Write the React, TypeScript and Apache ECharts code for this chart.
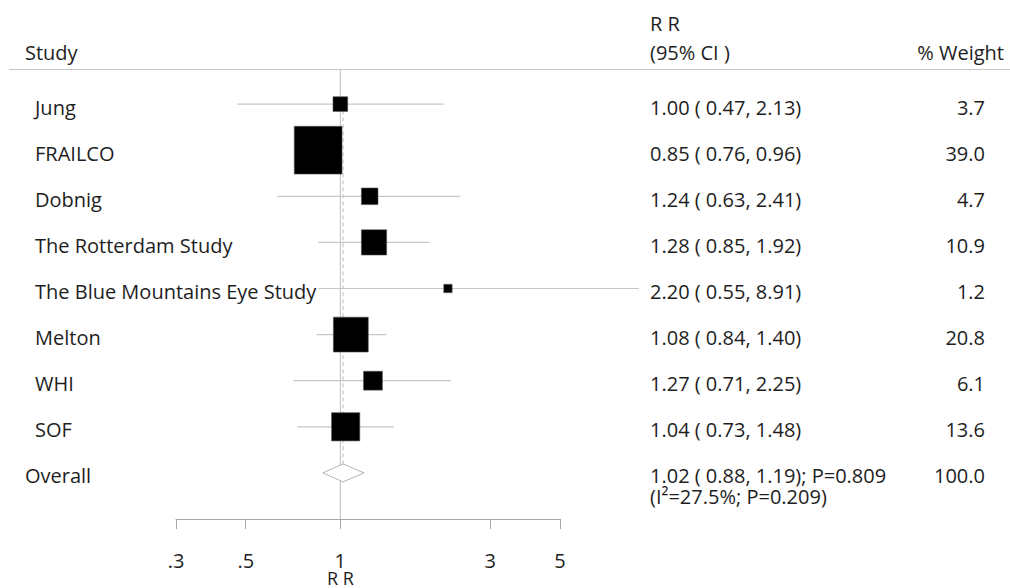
import React, { useEffect, useRef } from "react";
import * as echarts from "echarts";

// Per-study relative risks with 95% confidence intervals and meta-analysis weights
const studies = [
  "Jung",
  "FRAILCO",
  "Dobnig",
  "The Rotterdam Study",
  "The Blue Mountains Eye Study",
  "Melton",
  "WHI",
  "SOF",
];
const estimates = [1.0, 0.85, 1.24, 1.28, 2.2, 1.08, 1.27, 1.04];
const lowerCI = [0.47, 0.76, 0.63, 0.85, 0.55, 0.84, 0.71, 0.73];
const upperCI = [2.13, 0.96, 2.41, 1.92, 8.91, 1.4, 2.25, 1.48];
const weights = [3.7, 39.0, 4.7, 10.9, 1.2, 20.8, 6.1, 13.6];

// Pooled estimate
const overallLabel = "Overall";
const overallEstimate = 1.02;
const overallLower = 0.88;
const overallUpper = 1.19;
const overallP = "0.809";
const heterogeneityI2 = "27.5";
const heterogeneityP = "0.209";
const overallWeight = 100.0;

// Axis
const tickValues = [0.3, 0.5, 1, 3, 5];
const tickLabels = [".3", ".5", "1", "3", "5"];
const axisMin = 0.3;
const axisMax = 5;
const axisTitle = "R R";

// Column headers
const studyHeader = "Study";
const ciHeaderLines = ["R R", "(95% CI )"];
const weightHeader = "% Weight";

const FONT = "'Open Sans', 'Noto Sans', sans-serif";
const FS = 20;
const TEXT = "#1e1e1e";
const GREY = "#c6c6c6";

const lg = (v: number) => Math.log10(v);
const fmtCI = (e: number, l: number, u: number) =>
  `${e.toFixed(2)} ( ${l.toFixed(2)}, ${u.toFixed(2)})`;

export default function App() {
  const ref = useRef<HTMLDivElement>(null);

  useEffect(() => {
    if (!ref.current) return;
    const chart = echarts.init(ref.current, null, { renderer: "svg" });
    const overallRow = studies.length;

    const text = (
      x: number,
      y: number,
      s: string,
      align: string,
      extra: Record<string, unknown> = {}
    ) => ({
      type: "text",
      x,
      y,
      style: {
        text: s,
        fill: TEXT,
        fontFamily: FONT,
        fontSize: FS,
        align,
        verticalAlign: "middle",
        ...extra,
      },
    });

    const rowTexts = studies.map((s, i) => ({
      name: s,
      value: [0, i],
      label: s,
      ci: fmtCI(estimates[i], lowerCI[i], upperCI[i]),
      w: weights[i].toFixed(1),
    }));

    const option: any = {
      animation: false,
      backgroundColor: "#fff",
      grid: { left: 176, right: 450, top: 58, bottom: 69 },
      xAxis: {
        type: "value",
        position: "bottom",
        min: lg(axisMin),
        max: lg(axisMax),
        splitLine: { show: false },
        axisLine: { show: true, onZero: false, lineStyle: { color: "#a6a6a6", width: 1 } },
        axisTick: {
          show: true,
          length: 10,
          customValues: tickValues.map(lg),
          lineStyle: { color: "#a6a6a6", width: 1 },
        },
        axisLabel: {
          customValues: tickValues.map(lg),
          margin: 32,
          color: TEXT,
          fontFamily: FONT,
          fontSize: FS,
          lineHeight: 18,
          formatter: (v: number) => {
            let best = 0;
            tickValues.forEach((t, k) => {
              if (Math.abs(lg(t) - v) < Math.abs(lg(tickValues[best]) - v)) best = k;
            });
            return tickLabels[best];
          },
        },
      },
      yAxis: { type: "value", min: -1, max: 9, inverse: true, show: false },
      graphic: [
        {
          type: "line",
          shape: { x1: 9, y1: 69.5, x2: 1010, y2: 69.5 },
          style: { stroke: GREY, lineWidth: 1 },
          z: 1,
        },
        text(25, 52, studyHeader, "left"),
        text(650, 23, ciHeaderLines[0], "left"),
        text(650, 52, ciHeaderLines[1], "left"),
        text(1004, 52, weightHeader, "right"),
      ],
      series: [
        // line of no effect and axis title
        {
          type: "custom",
          clip: false,
          z: 1,
          data: [[lg(1), 9]],
          renderItem: (_p: any, api: any) => {
            const top = api.coord([api.value(0), -0.745]);
            const bot = api.coord([api.value(0), api.value(1)]);
            return {
              type: "group",
              children: [
                {
                  type: "line",
                  shape: { x1: top[0], y1: top[1], x2: bot[0], y2: bot[1] },
                  style: { stroke: "#bdbdbd", lineWidth: 1 },
                },
                text(bot[0], bot[1] + 59, axisTitle, "center", { fontSize: 18, lineHeight: 16 }),
              ],
            };
          },
        },
        // dashed line at pooled estimate
        {
          type: "custom",
          clip: false,
          z: 2,
          data: [[lg(overallEstimate), -0.17, overallRow]],
          renderItem: (_p: any, api: any) => {
            const a = api.coord([api.value(0), api.value(1)]);
            const b = api.coord([api.value(0), api.value(2)]);
            return {
              type: "line",
              shape: { x1: a[0], y1: a[1], x2: b[0], y2: b[1] - 9 },
              style: { stroke: "#bcbcbc", lineWidth: 1, lineDash: [4, 3] },
            };
          },
        },
        // confidence intervals
        {
          type: "custom",
          clip: false,
          z: 3,
          data: studies.map((_, i) => [lg(lowerCI[i]), lg(upperCI[i]), i]),
          encode: { x: [0, 1], y: 2 },
          renderItem: (_p: any, api: any) => {
            const a = api.coord([api.value(0), api.value(2)]);
            const b = api.coord([api.value(1), api.value(2)]);
            return {
              type: "line",
              shape: { x1: a[0], y1: a[1], x2: b[0], y2: b[1] },
              style: { stroke: GREY, lineWidth: 1.2 },
            };
          },
        },
        // weighted point estimates
        {
          type: "custom",
          clip: false,
          z: 4,
          data: studies.map((_, i) => [lg(estimates[i]), i, weights[i]]),
          encode: { x: 0, y: 1 },
          renderItem: (_p: any, api: any) => {
            const c = api.coord([api.value(0), api.value(1)]);
            const side = 7.65 * Math.sqrt(api.value(2));
            return {
              type: "rect",
              shape: { x: c[0] - side / 2, y: c[1] - side / 2, width: side, height: side },
              style: { fill: "#000", stroke: "#555", lineWidth: 0.6 },
            };
          },
        },
        // pooled diamond
        {
          type: "custom",
          clip: false,
          z: 4,
          data: [[lg(overallLower), lg(overallEstimate), lg(overallUpper), overallRow]],
          encode: { x: [0, 2], y: 3 },
          renderItem: (_p: any, api: any) => {
            const y = api.value(3);
            const l = api.coord([api.value(0), y]);
            const m = api.coord([api.value(1), y]);
            const r = api.coord([api.value(2), y]);
            const h = 9;
            return {
              type: "polygon",
              shape: {
                points: [
                  [l[0], l[1]],
                  [m[0], m[1] - h],
                  [r[0], r[1]],
                  [m[0], m[1] + h],
                ],
              },
              style: { fill: "#fff", stroke: "#b4b4b4", lineWidth: 1 },
            };
          },
        },
        // study rows: name, estimate text, weight
        {
          type: "custom",
          clip: false,
          z: 6,
          data: rowTexts,
          encode: { x: 0, y: 1 },
          renderItem: (p: any, api: any) => {
            const r = rowTexts[p.dataIndex];
            const y = api.coord([0, api.value(1)])[1] + 3;
            return {
              type: "group",
              children: [
                text(35, y, r.label, "left", { backgroundColor: "#fff", padding: [0, 2, 0, 0] }),
                text(650, y, r.ci, "left"),
                text(985, y, r.w, "right"),
              ],
            };
          },
        },
        // pooled row text
        {
          type: "custom",
          clip: false,
          z: 6,
          data: [[0, overallRow]],
          encode: { x: 0, y: 1 },
          renderItem: (_p: any, api: any) => {
            const y = api.coord([0, api.value(1)])[1] + 3;
            return {
              type: "group",
              children: [
                text(25, y, overallLabel, "left"),
                text(
                  650,
                  y,
                  `${fmtCI(overallEstimate, overallLower, overallUpper)}; P=${overallP}`,
                  "left",
                  { lineHeight: 19 }
                ),
                text(650, y + 21, `(I\u00B2=${heterogeneityI2}%; P=${heterogeneityP})`, "left", {
                  lineHeight: 19,
                }),
                text(985, y, overallWeight.toFixed(1), "right"),
              ],
            };
          },
        },
      ],
    };

    chart.setOption(option);
    return () => chart.dispose();
  }, []);

  return (
    <div
      ref={ref}
      style={{ position: "fixed", left: 0, top: 0, width: 1010, height: 588, background: "#fff" }}
    />
  );
}
